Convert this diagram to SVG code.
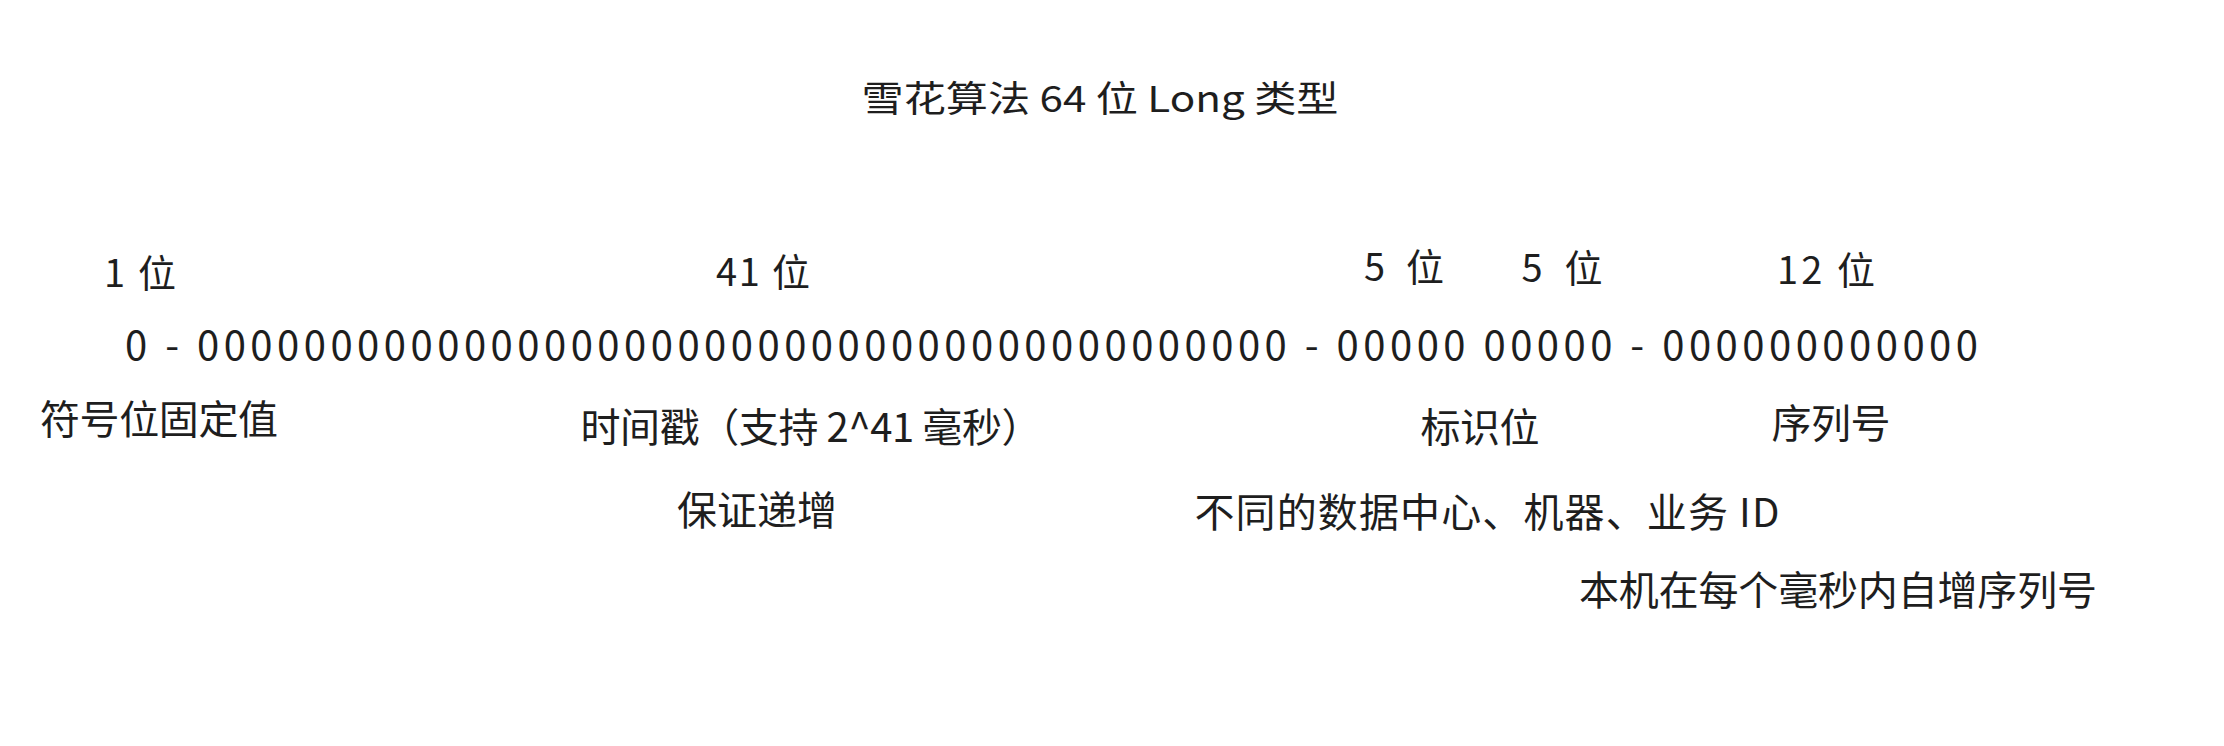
<svg xmlns="http://www.w3.org/2000/svg" width="2224" height="746" viewBox="0 0 2224 746">
  <style>
    .t { font-family: "Noto Sans CJK SC", "Noto Sans", sans-serif; fill: #1e1e1e; text-anchor: middle; dominant-baseline: central; lengthAdjust: spacing; }
    .title { font-size: 36px; }
    .bits { font-size: 38px; }
    .bin { font-size: 40px; text-anchor: start; }
    .desc { font-size: 40px; }
  </style>
  <rect x="0" y="0" width="2224" height="746" fill="#ffffff"/>
  <g id="title">
    <text class="t title" x="1100" y="96" textLength="477" lengthAdjust="spacingAndGlyphs">雪花算法 64 位 Long 类型</text>
  </g>
  <g id="bits-sign">
    <text class="t bits" x="140" y="270" textLength="72" lengthAdjust="spacing">1 位</text>
  </g>
  <g id="bits-timestamp">
    <text class="t bits" x="763" y="269" textLength="94" lengthAdjust="spacing">41 位</text>
  </g>
  <g id="bits-datacenter">
    <text class="t bits" x="1404" y="264" textLength="80" lengthAdjust="spacing">5 位</text>
  </g>
  <g id="bits-worker">
    <text class="t bits" x="1562" y="265" textLength="81" lengthAdjust="spacing">5 位</text>
  </g>
  <g id="bits-sequence">
    <text class="t bits" x="1826" y="267" textLength="98" lengthAdjust="spacing">12 位</text>
  </g>
  <g id="binary">
    <text class="t bin" x="125" y="343" textLength="1853" lengthAdjust="spacing">0 - 00000000000000000000000000000000000000000 - 00000 00000 - 000000000000</text>
  </g>
  <g id="desc-sign">
    <text class="t desc" x="159" y="417" textLength="238" lengthAdjust="spacing">符号位固定值</text>
  </g>
  <g id="desc-timestamp">
    <text class="t desc" x="811" y="425" textLength="461" lengthAdjust="spacing">时间戳（支持 2^41 毫秒）</text>
  </g>
  <g id="desc-id">
    <text class="t desc" x="1480" y="425" textLength="119" lengthAdjust="spacing">标识位</text>
  </g>
  <g id="desc-sequence">
    <text class="t desc" x="1831" y="421" textLength="119" lengthAdjust="spacing">序列号</text>
  </g>
  <g id="note-timestamp">
    <text class="t desc" x="757" y="508" textLength="160" lengthAdjust="spacing">保证递增</text>
  </g>
  <g id="note-id">
    <text class="t desc" x="1487" y="510" textLength="585" lengthAdjust="spacing">不同的数据中心、机器、业务 ID</text>
  </g>
  <g id="note-sequence">
    <text class="t desc" x="1838" y="588" textLength="518" lengthAdjust="spacing">本机在每个毫秒内自增序列号</text>
  </g>
</svg>
